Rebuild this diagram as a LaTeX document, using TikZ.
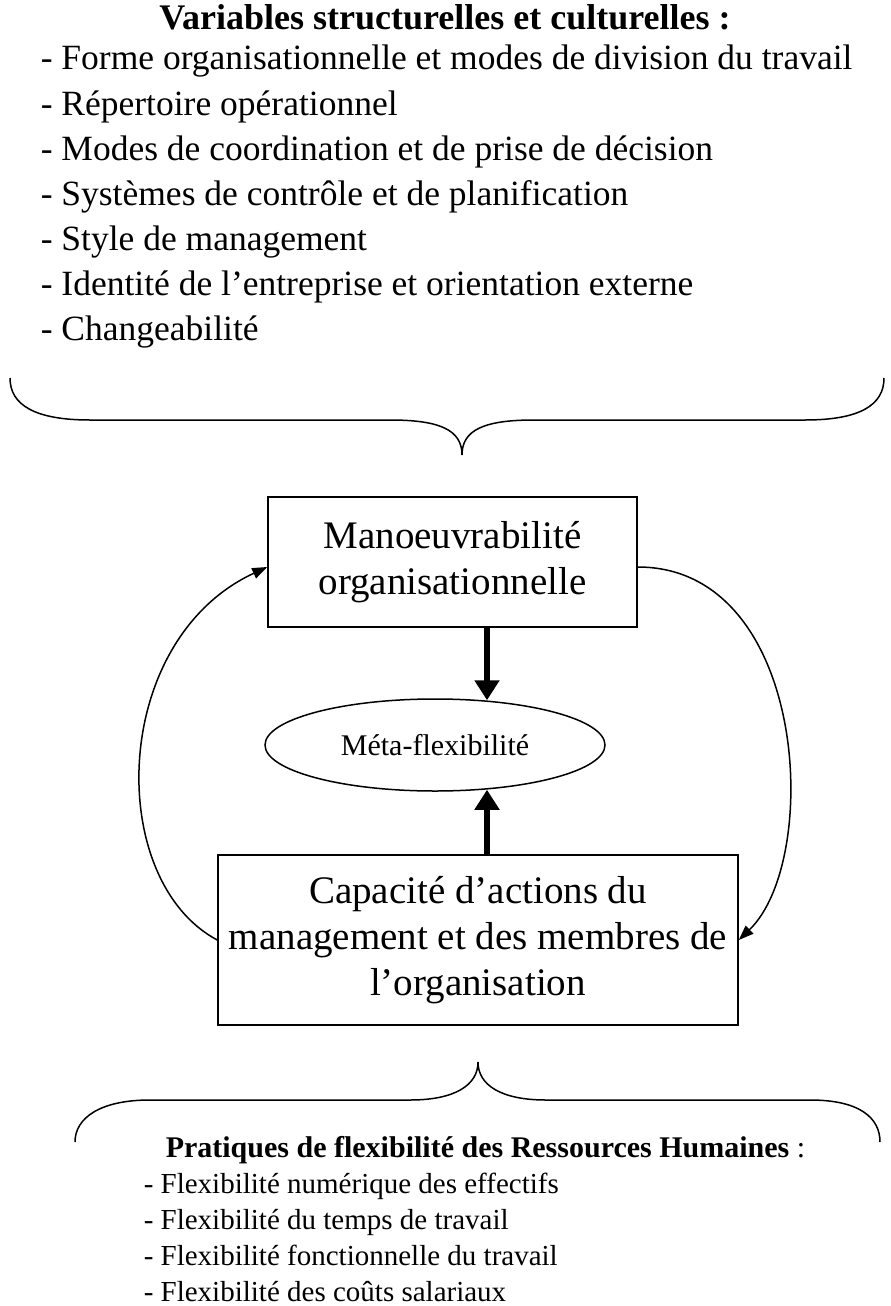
\documentclass[tikz,border=0pt]{standalone}
\usepackage{fontspec}
\setmainfont{Liberation Serif}
\usetikzlibrary{arrows.meta,shapes.geometric}
\begin{document}
\begin{tikzpicture}[x=1pt,y=-1pt,line width=1.5pt,
  lst/.style={anchor=base west,inner sep=0pt,font=\fontsize{35.5}{42}\selectfont},
  blst/.style={anchor=base west,inner sep=0pt,font=\fontsize{29}{34}\selectfont},
  ttl/.style={anchor=base,inner sep=0pt,font=\fontsize{36}{42}\selectfont\bfseries},
  box/.style={draw,align=center,inner sep=0pt,font=\fontsize{39}{46}\selectfont},
  bigarrow/.style={line width=6pt,-{Triangle[length=20pt,width=24pt]}},
  thinarrow/.style={line width=1.5pt,-{Triangle[length=15pt,width=11pt]}}]
\useasboundingbox (0,0) rectangle (891,1306);
% top list
\node[ttl] (t0) at (445,30) {Variables structurelles et culturelles :};
\node[lst] (t1) at (40,70) {- Forme organisationnelle et modes de division du travail};
\node[lst] (t2) at (40,115) {- Répertoire opérationnel};
\node[lst] (t3) at (40,160) {- Modes de coordination et de prise de décision};
\node[lst] (t4) at (40,205) {- Systèmes de contrôle et de planification};
\node[lst] (t5) at (40,250) {- Style de management};
\node[lst] (t6) at (40,295) {- Identité de l’entreprise et orientation externe};
\node[lst] (t7) at (40,340) {- Changeabilité};
% top brace
\draw (10,378) .. controls (10,405) and (35,420) .. (90,420) -- (390,420)
  .. controls (440,420) and (462,430) .. (462,455)
  .. controls (462,430) and (484,420) .. (534,420) -- (805,420)
  .. controls (860,420) and (884,405) .. (884,378);
% boxes
\node[box,minimum width=369,minimum height=130] (top) at (452.5,562) {Manoeuvrabilité\\organisationnelle};
\node[draw,ellipse,minimum width=340,minimum height=92,inner sep=0pt,font=\fontsize{30}{36}\selectfont] (meta) at (435,745) {Méta-flexibilité};
\node[box,minimum width=520,minimum height=170] (bot) at (478,940) {Capacité d’actions du\\management et des membres de\\l’organisation};
\coordinate (ax) at (487,0);
\draw[bigarrow] (top.south -| ax) -- ([yshift=-2pt]meta.north -| ax);
\draw[bigarrow] (bot.north -| ax) -- ([yshift=2pt]meta.south -| ax);
\coordinate (lc) at (0,940);
\coordinate (tl) at (0,567);
\draw[thinarrow] (bot.west |- lc) .. controls (105,880) and (110,640) .. (top.west |- tl);
\draw[thinarrow] (top.east |- tl) .. controls (808,567) and (822,860) .. (bot.east |- lc);
% bottom brace
\draw (75,1142) .. controls (75,1118) and (100,1100) .. (150,1100) -- (410,1100)
  .. controls (455,1100) and (478,1085) .. (478,1062)
  .. controls (478,1085) and (501,1100) .. (546,1100) -- (810,1100)
  .. controls (860,1100) and (880,1118) .. (880,1142);
% bottom list
\node[anchor=base west,inner sep=0pt,font=\fontsize{30}{36}\selectfont] (b0) at (165,1157) {\textbf{Pratiques de flexibilité des Ressources Humaines} :};
\node[blst] (b1) at (143,1193) {- Flexibilité numérique des effectifs};
\node[blst] (b2) at (143,1229) {- Flexibilité du temps de travail};
\node[blst] (b3) at (143,1265) {- Flexibilité fonctionnelle du travail};
\node[blst] (b4) at (143,1301) {- Flexibilité des coûts salariaux};
\end{tikzpicture}
\end{document}
